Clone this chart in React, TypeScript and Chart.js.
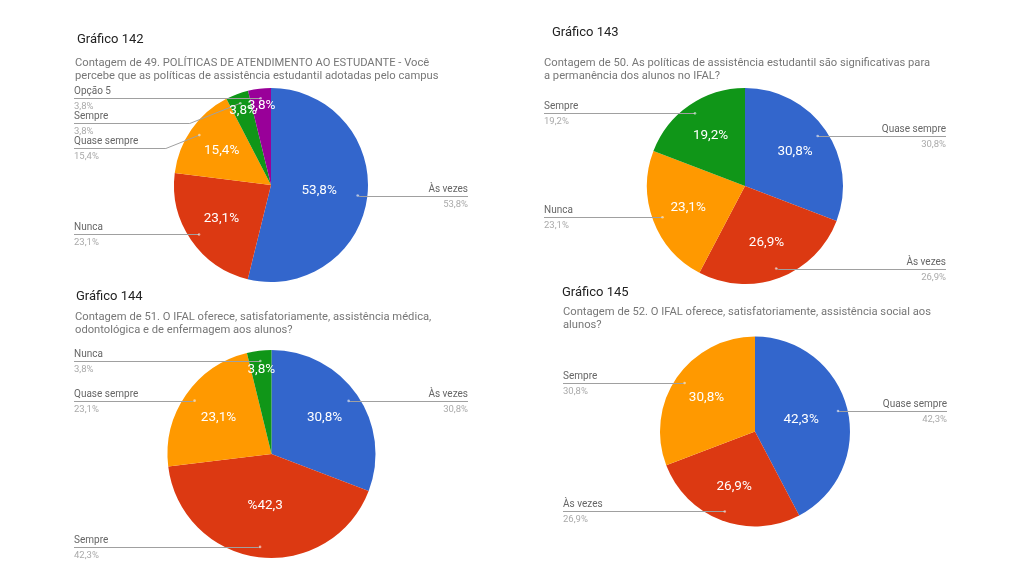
import React, { useEffect, useRef } from 'react';
import { Chart, registerables } from 'chart.js';

Chart.register(...registerables);

const BLUE = '#3366cc';
const RED = '#dc3912';
const ORANGE = '#ff9900';
const GREEN = '#109618';
const PURPLE = '#990099';

// Gráfico 142
const title142 = 'Gráfico 142';
const subtitle142 = [
  'Contagem de 49. POLÍTICAS DE ATENDIMENTO AO ESTUDANTE - Você',
  'percebe que as políticas de assistência estudantil adotadas pelo campus',
];
const labels142 = ['Às vezes', 'Nunca', 'Quase sempre', 'Sempre', 'Opção 5'];
const values142 = [53.8, 23.1, 15.4, 3.8, 3.8];
const sliceText142 = ['53,8%', '23,1%', '15,4%', '3,8%', '3,8%'];
const colors142 = [BLUE, RED, ORANGE, GREEN, PURPLE];

// Gráfico 143
const title143 = 'Gráfico 143';
const subtitle143 = [
  'Contagem de 50. As políticas de assistência estudantil são significativas para',
  'a permanência dos alunos no IFAL?',
];
const labels143 = ['Quase sempre', 'Às vezes', 'Nunca', 'Sempre'];
const values143 = [30.8, 26.9, 23.1, 19.2];
const sliceText143 = ['30,8%', '26,9%', '23,1%', '19,2%'];
const colors143 = [BLUE, RED, ORANGE, GREEN];

// Gráfico 144
const title144 = 'Gráfico 144';
const subtitle144 = [
  'Contagem de 51. O IFAL oferece, satisfatoriamente, assistência médica,',
  'odontológica e de enfermagem aos alunos?',
];
const labels144 = ['Às vezes', 'Sempre', 'Quase sempre', 'Nunca'];
const values144 = [30.8, 42.3, 23.1, 3.8];
const sliceText144 = ['30,8%', '%42,3', '23,1%', '3,8%'];
const colors144 = [BLUE, RED, ORANGE, GREEN];

// Gráfico 145
const title145 = 'Gráfico 145';
const subtitle145 = [
  'Contagem de 52. O IFAL oferece, satisfatoriamente, assistência social aos',
  'alunos?',
];
const labels145 = ['Quase sempre', 'Às vezes', 'Sempre'];
const values145 = [42.3, 26.9, 30.8];
const sliceText145 = ['42,3%', '26,9%', '30,8%'];
const colors145 = [BLUE, RED, ORANGE];

type Panel = {
  title: string;
  subtitle: string[];
  labels: string[];
  values: number[];
  sliceText: string[];
  colors: string[];
  left: number; top: number; w: number; h: number;
  cx: number; cy: number; r: number;
  titleX: number; titleY: number;
  subX: number; subY: number[];
  labelLeftX: number; labelRightX: number;
};

const PANELS: Panel[] = [
  {
    title: title142, subtitle: subtitle142, labels: labels142, values: values142,
    sliceText: sliceText142, colors: colors142,
    left: 0, top: 0, w: 512, h: 288,
    cx: 271, cy: 185, r: 97,
    titleX: 77, titleY: 40, subX: 75, subY: [63, 76],
    labelLeftX: 74, labelRightX: 468,
  },
  {
    title: title143, subtitle: subtitle143, labels: labels143, values: values143,
    sliceText: sliceText143, colors: colors143,
    left: 512, top: 0, w: 512, h: 288,
    cx: 745, cy: 186, r: 98,
    titleX: 552, titleY: 33, subX: 544, subY: [63, 76],
    labelLeftX: 544, labelRightX: 946,
  },
  {
    title: title144, subtitle: subtitle144, labels: labels144, values: values144,
    sliceText: sliceText144, colors: colors144,
    left: 0, top: 276, w: 512, h: 300,
    cx: 271.5, cy: 454, r: 104,
    titleX: 76, titleY: 297, subX: 75, subY: [317, 330],
    labelLeftX: 74, labelRightX: 468,
  },
  {
    title: title145, subtitle: subtitle145, labels: labels145, values: values145,
    sliceText: sliceText145, colors: colors145,
    left: 512, top: 276, w: 512, h: 300,
    cx: 755, cy: 431.5, r: 95,
    titleX: 562, titleY: 293, subX: 563, subY: [312, 325],
    labelLeftX: 563, labelRightX: 947,
  },
];

const FONT = 'Roboto, Arial, sans-serif';

function fmt(v: number) {
  return v.toFixed(1).replace('.', ',') + '%';
}

function makePlugin(p: Panel) {
  const ox = p.left;
  const oy = p.top;
  return {
    id: 'callouts',
    afterDraw(chart: any) {
      const ctx = chart.ctx as CanvasRenderingContext2D;
      const meta = chart.getDatasetMeta(0);
      const data = chart.data.datasets[0].data as number[];
      const labels = chart.data.labels as string[];
      ctx.save();
      // titles
      ctx.textAlign = 'left';
      ctx.textBaseline = 'middle';
      ctx.fillStyle = '#222222';
      ctx.font = `13px ${FONT}`;
      ctx.fillText(p.title, p.titleX - ox, p.titleY - oy);
      ctx.fillStyle = '#777777';
      ctx.font = `11.2px ${FONT}`;
      p.subtitle.forEach((s, i) => ctx.fillText(s, p.subX - ox, p.subY[i] - oy));

      const items = meta.data.map((arc: any, i: number) => {
        const q = arc.getProps(['x', 'y', 'startAngle', 'endAngle', 'outerRadius'], true);
        const mid = (q.startAngle + q.endAngle) / 2;
        const R = q.outerRadius;
        return {
          i, mid, x: q.x, y: q.y, R,
          dx: q.x + Math.cos(mid) * R * 0.9,
          dy: q.y + Math.sin(mid) * R * 0.9,
          left: Math.cos(mid) < 0,
        };
      });

      // callouts
      const lx = p.labelLeftX - ox;
      const rx = p.labelRightX - ox;
      for (const side of [true, false]) {
        const group = items.filter((it: any) => it.left === side).sort((a: any, b: any) => a.dy - b.dy);
        let prev = -Infinity;
        group.forEach((it: any) => {
          const ly = Math.round(Math.max(it.dy, prev + 24)) + 0.5;
          prev = ly;
          const off = Math.abs(it.dy - ly) * 2.5;
          ctx.strokeStyle = '#a0a0a0';
          ctx.lineWidth = 1;
          ctx.beginPath();
          if (side) {
            const bend = Math.max(lx + 50, it.dx - off);
            ctx.moveTo(lx, ly);
            ctx.lineTo(bend, ly);
          } else {
            const bend = Math.min(rx - 50, it.dx + off);
            ctx.moveTo(rx, ly);
            ctx.lineTo(bend, ly);
          }
          ctx.lineTo(it.dx, it.dy);
          ctx.stroke();
          ctx.fillStyle = 'rgba(255,255,255,0.55)';
          ctx.beginPath();
          ctx.arc(it.dx, it.dy, 1.3, 0, Math.PI * 2);
          ctx.fill();

          ctx.textAlign = side ? 'left' : 'right';
          const tx = side ? lx : rx;
          ctx.font = `10px ${FONT}`;
          ctx.fillStyle = '#666666';
          ctx.textBaseline = 'bottom';
          ctx.fillText(labels[it.i], tx, ly - 2);
          ctx.font = `9.5px ${FONT}`;
          ctx.fillStyle = '#aaaaaa';
          ctx.textBaseline = 'top';
          ctx.fillText(fmt(data[it.i]), tx, ly + 3);
        });
      }

      // slice labels
      ctx.fillStyle = '#ffffff';
      ctx.font = `13.5px ${FONT}`;
      ctx.textAlign = 'center';
      ctx.textBaseline = 'middle';
      items.forEach((it: any) => {
        const v = data[it.i];
        const f = v < 6 ? 0.82 : v >= 40 ? 0.5 : 0.62;
        ctx.fillText(p.sliceText[it.i], it.x + Math.cos(it.mid) * it.R * f, it.y + Math.sin(it.mid) * it.R * f);
      });
      ctx.restore();
    },
  };
}

function PiePanel({ p }: { p: Panel }) {
  const ref = useRef<HTMLCanvasElement | null>(null);
  useEffect(() => {
    if (!ref.current) return;
    const padLeft = p.cx - p.r - p.left;
    const padTop = p.cy - p.r - p.top;
    const padRight = p.left + p.w - (p.cx + p.r);
    const padBottom = p.top + p.h - (p.cy + p.r);
    const chart = new Chart(ref.current, {
      type: 'pie',
      data: {
        labels: p.labels,
        datasets: [
          {
            data: p.values,
            backgroundColor: p.colors,
            borderWidth: 0,
          },
        ],
      },
      options: {
        responsive: false,
        animation: false,
        devicePixelRatio: 1,
        layout: { padding: { left: padLeft, top: padTop, right: padRight, bottom: padBottom } },
        plugins: {
          legend: { display: false },
          tooltip: { enabled: false },
        },
      },
      plugins: [makePlugin(p)],
    } as any);
    return () => chart.destroy();
  }, [p]);
  return (
    <canvas
      ref={ref}
      width={p.w}
      height={p.h}
      style={{ position: 'absolute', left: p.left, top: p.top, width: p.w, height: p.h }}
    />
  );
}

export default function App() {
  return (
    <div style={{ position: 'fixed', left: 0, top: 0, width: 1024, height: 576, background: '#ffffff', overflow: 'hidden' }}>
      {PANELS.map((p, i) => (
        <PiePanel key={i} p={p} />
      ))}
    </div>
  );
}
